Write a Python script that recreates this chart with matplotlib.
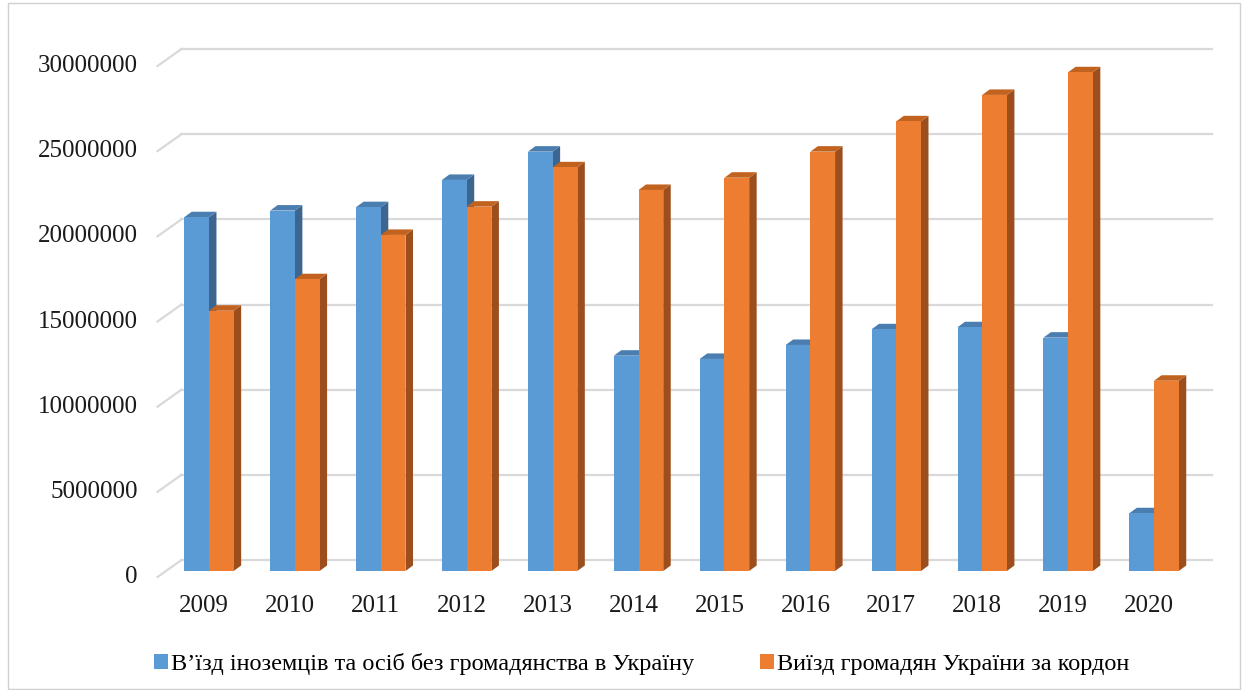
import matplotlib
matplotlib.use("Agg")
import matplotlib.pyplot as plt
from matplotlib.patches import Polygon, Rectangle, Patch
from matplotlib.lines import Line2D

years = ["2009", "2010", "2011", "2012", "2013", "2014", "2015", "2016", "2017", "2018", "2019", "2020"]
entry_foreigners = [20.77e6, 21.16e6, 21.36e6, 22.96e6, 24.62e6, 12.64e6, 12.45e6, 13.27e6, 14.19e6, 14.31e6, 13.70e6, 3.39e6]
exit_ukrainians = [15.28e6, 17.13e6, 19.73e6, 21.39e6, 23.70e6, 22.37e6, 23.09e6, 24.62e6, 26.40e6, 27.95e6, 29.28e6, 11.17e6]
yticks = [0, 5000000, 10000000, 15000000, 20000000, 25000000, 30000000]
series_names = ["В’їзд іноземців та осіб без громадянства в Україну", "Виїзд громадян України за кордон"]

W, H, DPI = 1248, 690, 100
fig = plt.figure(figsize=(W / DPI, H / DPI), dpi=DPI)
fig.patch.set_facecolor("white")

# axes = plane of bar front faces (pixel geometry)
x_left_px, x_right_px = 166, 1197
y_zero_px, y_top_px = 571, 60
ax = fig.add_axes([x_left_px / W, (H - y_zero_px) / H,
                   (x_right_px - x_left_px) / W, (y_zero_px - y_top_px) / H])
ax.set_xlim(-0.5, 11.5)
ax.set_ylim(0, 30e6)
ax.axis("off")

pxx = (x_right_px - x_left_px) / 12.0          # pixels per category unit
pxy = (y_zero_px - y_top_px) / 30e6            # pixels per value unit
def off(dx_px, dy_px):
    return dx_px / pxx, dy_px / pxy

# depth offsets (pixels, y up)
front_dx, front_dy = off(-8.5, -6)     # front edge of floor relative to bar plane
back_dx, back_dy = off(15.5, 11)       # back wall relative to bar plane
bar_dx, bar_dy = off(7.5, 5.5)         # bar depth

grid_c = "#D9D9D9"
for t in yticks:
    ax.add_line(Line2D([-0.5 + back_dx, 11.5 + back_dx], [t + back_dy, t + back_dy],
                       color=grid_c, lw=1.6, clip_on=False, zorder=1))
    ax.add_line(Line2D([-0.5 + front_dx, -0.5 + back_dx], [t + front_dy, t + back_dy],
                       color=grid_c, lw=1.6, clip_on=False, zorder=1))
    ax.text(-0.5 + front_dx + off(-20, 0)[0], t + front_dy, f"{t}", ha="right", va="center",
            fontsize=18, family="Liberation Serif", color="#1a1a1a")

for i, y in enumerate(years):
    ax.text(i + off(-5, 0)[0], off(0, -35)[1], y, ha="center", va="center",
            fontsize=18, family="Liberation Serif", color="#1a1a1a")

bw = 0.2875
styles = [
    dict(front="#5B9BD5", side="#3C6690", top="#4A7DB0"),
    dict(front="#ED7D31", side="#9C4F1D", top="#C2621F"),
]
z = 3
for i in range(len(years)):
    for s, vals in enumerate([entry_foreigners, exit_ukrainians]):
        v = vals[i]
        x0 = i - bw + s * bw
        x1 = x0 + bw
        st = styles[s]
        side = Polygon([(x1, 0), (x1 + bar_dx, bar_dy), (x1 + bar_dx, v + bar_dy), (x1, v)],
                       closed=True, facecolor=st["side"], edgecolor="none", clip_on=False, zorder=z)
        top = Polygon([(x0, v), (x1, v), (x1 + bar_dx, v + bar_dy), (x0 + bar_dx, v + bar_dy)],
                      closed=True, facecolor=st["top"], edgecolor="none", clip_on=False, zorder=z)
        front = Rectangle((x0, 0), bw, v, facecolor=st["front"], edgecolor="none",
                          clip_on=False, zorder=z + 0.5)
        ax.add_patch(side)
        ax.add_patch(top)
        ax.add_patch(front)
        z += 1

handles = [Patch(facecolor=styles[0]["front"], edgecolor="none"),
           Patch(facecolor=styles[1]["front"], edgecolor="none")]
fig.legend(handles, series_names, loc="center", bbox_to_anchor=(642 / W, (H - 664) / H),
           ncol=2, frameon=False, handlelength=0.55, handleheight=0.55, handletextpad=0.15,
           columnspacing=2.7, prop={"family": "Liberation Serif", "size": 17.5})

fig.patches.append(Rectangle((8 / W, 1 / H), (1240 - 8) / W, (687 - 1) / H, transform=fig.transFigure,
                             fill=False, edgecolor="#D0D0D0", lw=1.0))

fig.savefig("out.png", dpi=DPI)
